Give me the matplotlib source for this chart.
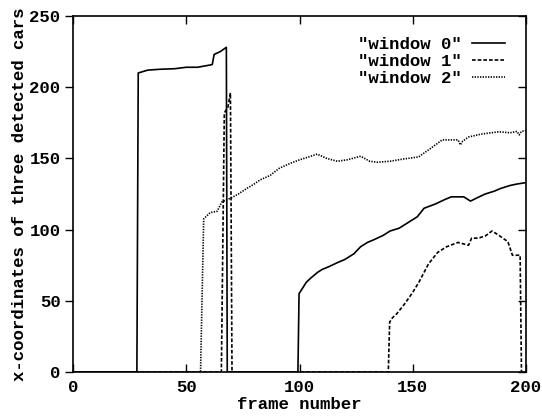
import matplotlib
matplotlib.use("Agg")
import matplotlib.pyplot as plt

# window 0 (solid)
x0 = [0, 28.2, 28.8, 33, 38.5, 45, 50, 55, 60.6, 61.5, 62.3, 65, 67.7, 68.1,
      99.3, 99.8, 101, 103, 105, 108, 110, 113, 117, 120, 124, 127, 130, 133,
      137, 140, 144, 148, 152, 155, 160, 164, 167, 170, 172.5, 175.5, 178, 182,
      186, 189, 193, 196, 200]
y0 = [0, 0, 210, 212, 212.6, 213, 214, 214, 215.6, 216, 223, 225, 228, 0,
      0, 55, 58, 63, 66, 70, 72, 74, 77, 79, 83, 88, 91, 93,
      96, 99, 101, 105, 109, 115, 118, 121, 123, 123, 123, 120, 122, 125,
      127, 129, 131, 132, 133]

# window 1 (dashed)
x1 = [0, 65.5, 66.8, 68.4, 69.5, 70.2, 139.2, 139.8, 141, 143, 146.5, 150,
      152.7, 155, 157, 161, 165, 170, 174.6, 176, 179, 182, 185, 188, 192,
      194, 197.4, 198, 200]
y1 = [0, 0, 182, 186, 196, 0, 0, 35, 38, 41, 48, 56,
      63, 70, 76, 84, 88, 91, 89, 94, 94, 95.5, 99, 96, 91.5,
      82, 82, 0, 0]

# window 2 (dotted)
x2 = [0, 56.3, 57.7, 60.6, 63.6, 65.8, 69.5, 73, 76.8, 80, 82.7, 87, 91, 96,
      100, 104, 107.8, 112, 116.7, 121, 127, 131, 134.4, 140, 146, 152.5, 157,
      163, 167, 170, 171, 172, 174.6, 180, 188, 193, 196, 197, 198, 200]
y2 = [0, 0, 107.5, 112, 112.8, 119.6, 122, 125, 129, 132, 135, 138, 143, 146.6,
      149, 151, 153, 150, 148, 149, 151.5, 148, 147.3, 148, 149.6, 151, 156,
      163, 163, 163, 159.5, 162, 165, 167, 168.7, 168, 169, 166.5, 169, 169.5]

xticks = [0, 50, 100, 150, 200]
yticks = [0, 50, 100, 150, 200, 250]

font = "Liberation Mono"
fs = 12.5
wt = "bold"

fig = plt.figure(figsize=(5.42, 4.19), dpi=100)
ax = fig.add_axes([0.1347, 0.1122, 0.8358, 0.8496])

ax.plot(x0, y0, color="black", lw=1.2, label='"window 0"')
ax.plot(x1, y1, color="black", lw=1.2, dashes=(2.2, 1.2), label='"window 1"')
ax.plot(x2, y2, color="black", lw=1.2, dashes=(0.8, 0.8), label='"window 2"')

ax.set_xlim(0, 200)
ax.set_ylim(0, 250)
ax.set_xticks(xticks)
ax.set_yticks(yticks)
ax.tick_params(axis="x", direction="in", length=6, width=1, top=True, pad=6)
ax.tick_params(axis="y", direction="out", length=6, width=1, pad=3)
ax.tick_params(axis="y", which="both", right=True)
for t in ax.yaxis.get_major_ticks():
    t.tick2line.set_marker(matplotlib.lines.TICKLEFT)
for lab in ax.get_xticklabels() + ax.get_yticklabels():
    lab.set_fontfamily(font)
    lab.set_fontsize(fs)
    lab.set_fontweight(wt)
for s in ax.spines.values():
    s.set_linewidth(1.2)

ax.set_xlabel("frame number", fontfamily=font, fontsize=fs, fontweight=wt, labelpad=1)
ax.set_ylabel("x-coordinates of three detected cars", fontfamily=font, fontsize=fs,
              fontweight=wt, labelpad=2)

leg = ax.legend(loc="upper right", frameon=False, markerfirst=False,
                handlelength=1.9, handletextpad=0.6, labelspacing=0.1,
                borderaxespad=0.8,
                prop={"family": font, "size": fs, "weight": wt})

fig.savefig("out.png", dpi=100)
